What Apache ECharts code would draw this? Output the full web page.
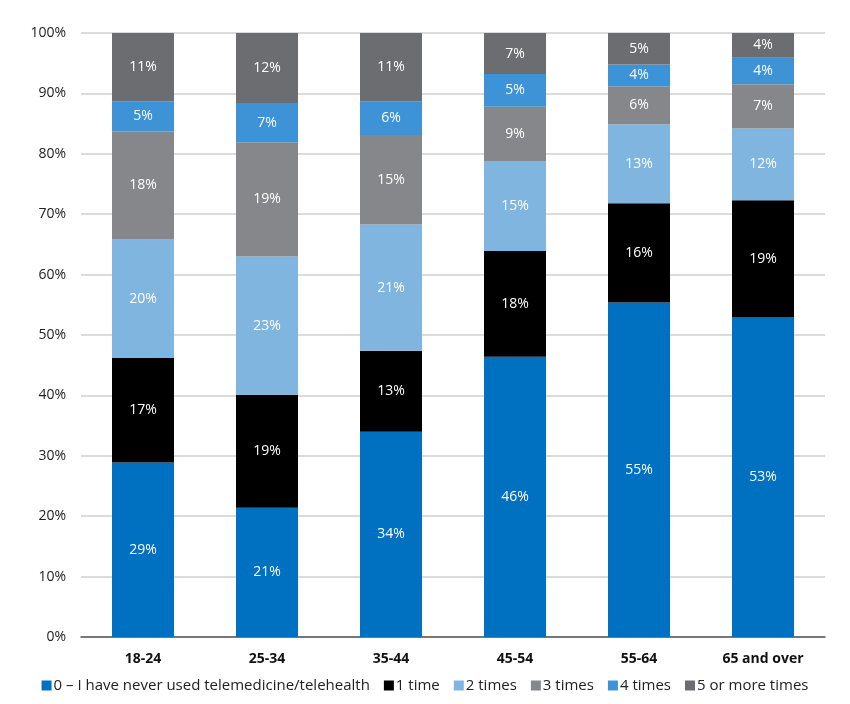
<!DOCTYPE html>
<html><head><meta charset="utf-8">
<script src="https://cdn.jsdelivr.net/npm/echarts@6/dist/echarts.min.js"></script>
<style>html,body{margin:0;padding:0;background:#fff}#c{width:850px;height:704px}</style>
</head><body><div id="c"></div>
<script>
const categories = ['18-24','25-34','35-44','45-54','55-64','65 and over'];
const seriesNames = ['0 – I have never used telemedicine/telehealth','1 time','2 times','3 times','4 times','5 or more times'];
const never = [28.9, 21.4, 34.0, 46.4, 55.4, 52.9];
const once = [17.3, 18.7, 13.4, 17.5, 16.4, 19.4];
const twice = [19.6, 22.9, 20.9, 14.9, 13.1, 11.9];
const thrice = [17.9, 18.9, 14.8, 9.0, 6.3, 7.3];
const four = [5.0, 6.5, 5.6, 5.4, 3.6, 4.4];
const fivePlus = [11.3, 11.6, 11.3, 6.8, 5.2, 4.1];
const yTicks = [0,10,20,30,40,50,60,70,80,90,100];

const colors = ['#0070c0','#000000','#80b5df','#86878b','#3d93d5','#6c6d71'];
const allData = [never, once, twice, thrice, four, fivePlus];
const font = "'Open Sans', 'DejaVu Sans', sans-serif";

const chart = echarts.init(document.getElementById('c'), null, {renderer:'canvas'});
chart.setOption({
  animation:false,
  color: colors,
  textStyle:{fontFamily:font},
  grid:{left:81, right:25, top:33, bottom:67, containLabel:false},
  legend:{
    bottom:6, left:'center',
    itemWidth:10, itemHeight:10, itemGap:14,
    icon:'rect',
    textStyle:{fontFamily:font, fontSize:15, color:'#222', padding:[0,0,0,-3]},
    data: seriesNames
  },
  xAxis:{
    type:'category', data:categories,
    axisLine:{show:true, lineStyle:{color:'#555', width:1.5}}, axisTick:{show:false},
    axisLabel:{fontFamily:font, fontSize:14, fontWeight:'bold', color:'#111', margin:15}
  },
  yAxis:{
    type:'value', min:0, max:100, interval:10,
    axisLine:{show:false}, axisTick:{show:false},
    axisLabel:{fontFamily:font, fontSize:14, color:'#222', margin:15, formatter: v => v + '%'},
    splitLine:{lineStyle:{color:'#cfcfd3', width:1.5}}
  },
  series: allData.map((d,i)=>({
    name: seriesNames[i], type:'bar', stack:'all', data:d, barWidth:'50%',
    itemStyle:{color:colors[i]},
    label:{show:true, position:'inside', color:'#fff', fontFamily:font, fontSize:14,
      formatter: p => Math.round(p.value) + '%'}
  }))
});
</script></body></html>
